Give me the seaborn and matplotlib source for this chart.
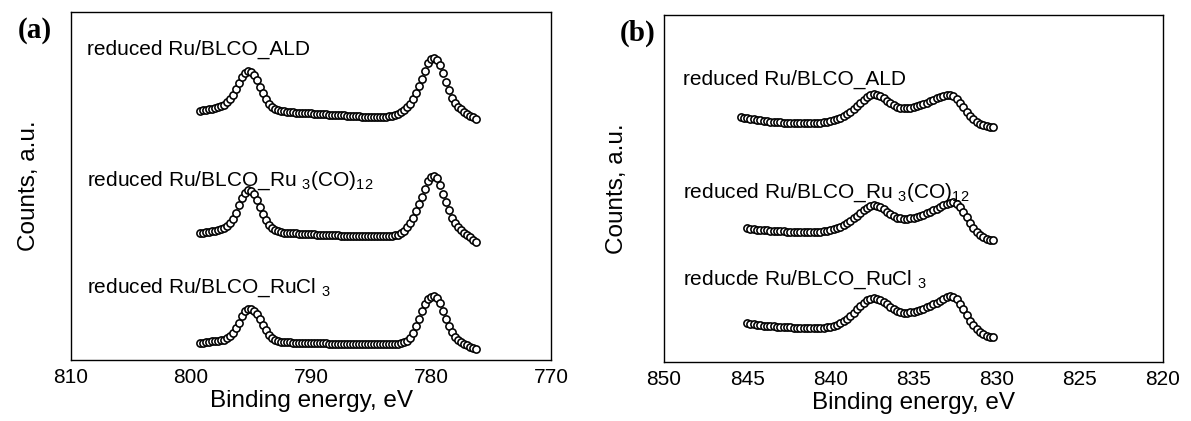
import numpy as np
import pandas as pd
import matplotlib
matplotlib.use("Agg")
import matplotlib.pyplot as plt
import seaborn as sns

# ---------------- data ----------------
# Panel (a): Ba 3d region, energy grid start / step (eV, descending)
a_start, a_step = 799.25, 0.25
a_labels = ["reduced Ru/BLCO_ALD",
            "reduced Ru/BLCO_Ru $_3$(CO)$_{12}$",
            "reduced Ru/BLCO_RuCl $_3$"]
a_ald = [249.5, 250, 250.5, 251, 251.5, 252, 253, 254, 255.5, 258,
         261, 265, 271, 277, 283, 287.5, 289, 288.5, 285.5, 280,
         273.5, 267, 261, 256.5, 253.5, 251.5, 250.5, 249.5, 249, 248.5,
         248, 248, 247.5, 247.5, 247.5, 247, 247, 247, 246.5, 246.5,
         246.5, 246, 246, 245.5, 245.5, 245.5, 245, 245, 245, 244.5,
         244.5, 244, 244, 244, 243.5, 243.5, 243.5, 243, 243, 243,
         243, 243, 243.5, 244, 244.5, 245.5, 246.5, 248, 250, 253,
         256.5, 261.5, 267.5, 274, 281.5, 289.5, 297, 301, 302, 300.5,
         295, 287, 278.5, 270, 262.5, 257, 253.5, 251, 248.5, 246.5,
         244.5, 243, 241.5]
a_ruco = [127, 127.5, 128, 128.5, 129, 129.5, 130.5, 131.5, 132.5, 134,
          137, 141, 147.5, 155, 162, 167.5, 170, 169.5, 166, 160.5,
          153.5, 146.5, 140, 135, 132, 130, 129, 128, 127.5, 127.5,
          127, 127, 127, 126.5, 126.5, 126.5, 126, 126, 126, 125.5,
          125.5, 125.5, 125.5, 125, 125, 125, 125, 124.5, 124.5, 124.5,
          124.5, 124, 124, 124, 124, 124, 124, 124, 124, 124,
          124, 124, 124, 124.5, 124.5, 125, 125.5, 127, 129.5, 133,
          137, 142.5, 149, 156, 163.5, 171.5, 179, 183, 184, 182,
          175, 166, 158, 150, 142.5, 137, 133, 130, 127.5, 125.5,
          123, 120.5, 118.5]
a_rucl = [17, 17.5, 18, 18.5, 19, 19.5, 19.5, 20, 20.5, 22,
          24, 27.5, 32, 37.5, 44, 49, 51.5, 51.5, 49.5, 46,
          41, 35, 30, 25.5, 22.5, 20.5, 19.5, 18.5, 18, 18,
          18, 17.5, 17.5, 17.5, 17.5, 17.5, 17.5, 17.5, 17.5, 17,
          17, 17, 17, 16.5, 16.5, 16.5, 16.5, 16.5, 16.5, 16,
          16, 16, 16, 16, 16, 16, 16, 16, 16, 16,
          16, 16, 16, 16, 16, 16.5, 16.5, 17, 18, 19.5,
          22.5, 27.5, 34, 41.5, 49, 56, 61.5, 63.5, 64, 62,
          57, 49.5, 41.5, 34, 28, 23.5, 20.5, 18, 16.5, 15,
          13.5, 12.5, 11.5]

# Panel (b): La 3d region
b_step = 0.2
b_starts = [845.4, 845.0, 845.0]
b_labels = ["reduced Ru/BLCO_ALD",
            "reduced Ru/BLCO_Ru $_3$(CO)$_{12}$",
            "reducde Ru/BLCO_RuCl $_3$"]
b_ald = [245, 244.5, 244, 243.5, 243, 242.5, 242, 241.5, 241, 240.5,
         240.5, 240, 240, 239.5, 239.5, 239.5, 239, 239, 239, 239,
         239, 239, 239, 239.5, 239.5, 240, 240.5, 241, 242, 243,
         244.5, 246, 248, 250.5, 253, 256, 259, 262, 265, 267,
         268, 267.5, 266, 264, 261.5, 259, 257, 255.5, 254.5, 254,
         254, 254.5, 255, 256, 257, 258, 259.5, 261, 262.5, 264,
         265.5, 266.5, 267, 267, 266, 263.5, 259.5, 255, 250.5, 246.5,
         243, 240.5, 238.5, 237, 236, 235.5, 235]
b_ruco = [134, 133.5, 133, 132.5, 132.5, 132, 132, 131.5, 131.5, 131,
          131, 131, 130.5, 130.5, 130.5, 130, 130, 130, 130, 130,
          130, 130, 130.5, 131, 131.5, 132, 133, 134, 135.5, 137,
          139, 141.5, 144, 146.5, 149.5, 152, 154.5, 156.5, 157, 156.5,
          155, 153, 150.5, 148, 146, 144.5, 144, 143.5, 143.5, 144,
          144.5, 145.5, 146.5, 147.5, 149, 150.5, 152, 153.5, 155, 157,
          158.5, 159.5, 160, 158.5, 155, 150.5, 145, 139.5, 134.5, 130.5,
          127.5, 125, 123.5, 122.5, 122]
b_rucl = [39, 38.5, 38, 37.5, 37, 36.5, 36.5, 36, 36, 35.5,
          35.5, 35, 35, 35, 34.5, 34.5, 34.5, 34.5, 34, 34,
          34, 34, 34.5, 34.5, 35, 35.5, 36.5, 37.5, 39, 41,
          43.5, 46.5, 49.5, 53, 56.5, 59.5, 62, 63.5, 64, 63.5,
          62.5, 60.5, 58, 55.5, 53, 51, 50, 49.5, 49.5, 50,
          50.5, 51.5, 52.5, 53.5, 55, 56.5, 58, 59.5, 61.5, 63.5,
          65, 66, 65.5, 63, 58.5, 53, 47, 41.5, 37, 33,
          30, 28, 26.5, 25.5, 25]

a_ticks = [810, 800, 790, 780, 770]
b_ticks = [850, 845, 840, 835, 830, 825, 820]

# ---------------- style ----------------
sns.set_style("white")
plt.rcParams["font.family"] = ["Liberation Sans", "DejaVu Sans"]
plt.rcParams["mathtext.fontset"] = "custom"
plt.rcParams["mathtext.rm"] = "Liberation Sans"
plt.rcParams["mathtext.it"] = "Liberation Sans:italic"
plt.rcParams["mathtext.bf"] = "Liberation Sans:bold"
plt.rcParams["text.color"] = "black"
plt.rcParams["axes.labelcolor"] = "black"
plt.rcParams["xtick.color"] = "black"
plt.rcParams["ytick.color"] = "black"

fig = plt.figure(figsize=(11.91, 4.21), dpi=100)
ax_a = fig.add_axes([71/1191, 1-360/421, 480/1191, 348/421])
ax_b = fig.add_axes([664/1191, 1-362/421, 499/1191, 347/421])


def build(start, step, vals, name):
    e = start - step*np.arange(len(vals))
    return pd.DataFrame({"energy": e, "counts": vals, "sample": name})


def draw(ax, frames):
    for df in frames:
        sns.scatterplot(data=df, x="energy", y="counts", ax=ax,
                        marker="o", s=27, color="white",
                        edgecolor="black", linewidth=1.15, legend=False,
                        zorder=3)


frames_a = [build(a_start, a_step, v, n)
            for v, n in zip([a_ald, a_ruco, a_rucl], a_labels)]
frames_b = [build(s, b_step, v, n)
            for s, v, n in zip(b_starts, [b_ald, b_ruco, b_rucl], b_labels)]
draw(ax_a, frames_a)
draw(ax_b, frames_b)

for ax, ticks, ylim, lp in [(ax_a, a_ticks, 348, 22), (ax_b, b_ticks, 347, 26)]:
    ax.set_xlim(ticks[0], ticks[-1])
    ax.set_ylim(0, ylim)
    ax.set_xticks(ticks)
    ax.set_yticks([])
    ax.tick_params(axis="x", direction="in", length=5, width=1,
                   labelsize=15, pad=6, colors="black")
    for sp in ax.spines.values():
        sp.set_color("black")
        sp.set_linewidth(1.0)
    ax.set_xlabel("Binding energy, eV", fontsize=17.5, labelpad=2)
    ax.set_ylabel("Counts, a.u.", fontsize=17.5, labelpad=lp)

# sample annotations (axes fraction)
for lab, yf in zip(a_labels, [0.876, 0.50, 0.193]):
    ax_a.text(0.033, yf, lab, transform=ax_a.transAxes, fontsize=15,
              ha="left", va="baseline")
for lab, yf in zip(b_labels, [0.798, 0.473, 0.222]):
    ax_b.text(0.038, yf, lab, transform=ax_b.transAxes, fontsize=15,
              ha="left", va="baseline")

fig.text(35/1191, 1-30/421, "(a)", fontsize=21, fontweight="bold",
         family=["Liberation Serif", "DejaVu Serif"], ha="center", va="center")
fig.text(638/1191, 1-33/421, "(b)", fontsize=21, fontweight="bold",
         family=["Liberation Serif", "DejaVu Serif"], ha="center", va="center")

fig.savefig("out.png", dpi=100)
